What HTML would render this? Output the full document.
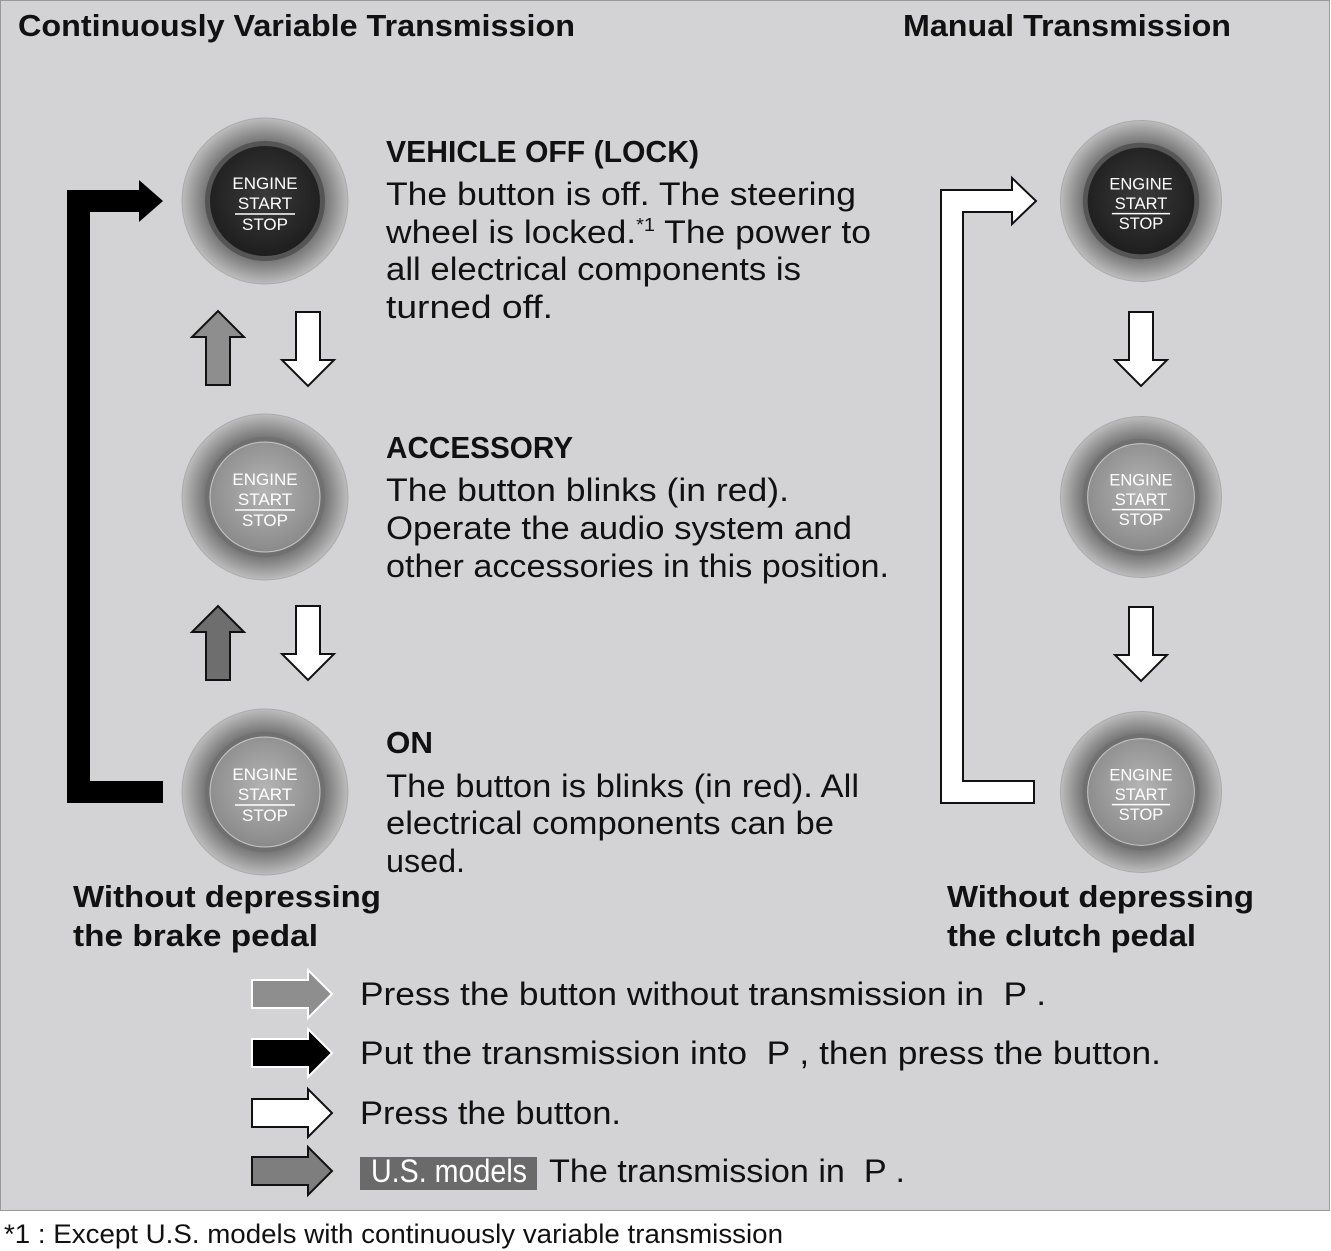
<!DOCTYPE html>
<html><head><meta charset="utf-8"><style>
html,body{margin:0;padding:0;background:#fff;}
svg{display:block;}
text{font-family:"Liberation Sans",sans-serif;fill:#111;white-space:pre;}
.b{font-weight:bold;font-size:31px;}
.t{font-size:32px;}
.bt{font-size:17px;fill:#fff;text-anchor:middle;}
</style></head><body>
<svg width="1331" height="1251" viewBox="0 0 1331 1251" xmlns="http://www.w3.org/2000/svg">
<defs>
<radialGradient id="ring" cx="50%" cy="50%" r="50%">
<stop offset="0.6" stop-color="#5a5a5a"/><stop offset="0.8" stop-color="#8a8a8a"/><stop offset="1" stop-color="#bdbdbd"/>
</radialGradient>
<radialGradient id="dark" cx="50%" cy="45%" r="55%">
<stop offset="0" stop-color="#3a3a3a"/><stop offset="1" stop-color="#1e1e1e"/>
</radialGradient>
<radialGradient id="light" cx="50%" cy="45%" r="55%">
<stop offset="0" stop-color="#b4b4b4"/><stop offset="1" stop-color="#8a8a8a"/>
</radialGradient>
<g id="btnD">
<circle r="83" fill="url(#ring)" stroke="#aaa" stroke-width="1"/>
<circle r="60" fill="#555"/>
<circle r="55" fill="url(#dark)"/>
<text class="bt" y="-12">ENGINE</text>
<text class="bt" y="8">START</text>
<line x1="-30" y1="13" x2="30" y2="13" stroke="#fff" stroke-width="1.5"/>
<text class="bt" y="29">STOP</text>
</g>
<g id="btnL">
<circle r="83" fill="url(#ring)" stroke="#aaa" stroke-width="1"/>
<circle r="60" fill="#707070"/>
<circle r="55" fill="url(#light)" stroke="#c8c8c8" stroke-width="1"/>
<text class="bt" y="-12">ENGINE</text>
<text class="bt" y="8">START</text>
<line x1="-30" y1="13" x2="30" y2="13" stroke="#fff" stroke-width="1.5"/>
<text class="bt" y="29">STOP</text>
</g>
<path id="down" d="M-12,0 H12 V48 H26 L0,74 L-26,48 H-12 Z" stroke="#111" stroke-width="2"/>
<path id="right" d="M0,-14 H56 V-24 L80,0 L56,24 V14 H0 Z" stroke-width="2"/>
</defs>
<rect x="0.5" y="0.5" width="1329" height="1210" fill="#d3d3d5" stroke="#999" stroke-width="1"/>

<text class="b" x="18" y="36" textLength="557" lengthAdjust="spacingAndGlyphs">Continuously Variable Transmission</text>
<text class="b" x="903" y="36" textLength="328" lengthAdjust="spacingAndGlyphs">Manual Transmission</text>

<path d="M163,781 H90 V212 H139 V222 L163,201 L139,180 V190 H67 V803 H163 Z" fill="#000"/>
<path d="M1034,781 H963 V212 H1012 V224 L1036,201 L1012,178 V190 H941 V803 H1034 Z" fill="#fff" stroke="#111" stroke-width="2"/>

<use href="#btnD" x="265" y="201"/>
<use href="#btnL" x="265" y="497"/>
<use href="#btnL" x="265" y="792"/>
<use href="#btnD" x="1141" y="201" transform="translate(1141,201) scale(0.97) translate(-1141,-201)"/>
<use href="#btnL" x="1141" y="497" transform="translate(1141,497) scale(0.97) translate(-1141,-497)"/>
<use href="#btnL" x="1141" y="792" transform="translate(1141,792) scale(0.97) translate(-1141,-792)"/>

<use href="#down" x="218" y="385" transform="rotate(180 218 385)" fill="#8e8e8e"/>
<use href="#down" x="308" y="312" fill="#fff"/>
<use href="#down" x="218" y="680" transform="rotate(180 218 680)" fill="#6e6e6e"/>
<use href="#down" x="308" y="606" fill="#fff"/>
<use href="#down" x="1141" y="312" fill="#fff"/>
<use href="#down" x="1141" y="607" fill="#fff"/>

<text class="b" x="386" y="162" textLength="313" lengthAdjust="spacingAndGlyphs">VEHICLE OFF (LOCK)</text>
<text class="t" x="386" y="205" textLength="470" lengthAdjust="spacingAndGlyphs">The button is off. The steering</text>
<text class="t" x="386" y="243" textLength="485" lengthAdjust="spacingAndGlyphs">wheel is locked.<tspan font-size="18" dy="-12">*1</tspan><tspan dy="12"> The power to</tspan></text>
<text class="t" x="386" y="280" textLength="415" lengthAdjust="spacingAndGlyphs">all electrical components is</text>
<text class="t" x="386" y="318" textLength="167" lengthAdjust="spacingAndGlyphs">turned off.</text>

<text class="b" x="386" y="458" textLength="187" lengthAdjust="spacingAndGlyphs">ACCESSORY</text>
<text class="t" x="386" y="501" textLength="403" lengthAdjust="spacingAndGlyphs">The button blinks (in red).</text>
<text class="t" x="386" y="539" textLength="466" lengthAdjust="spacingAndGlyphs">Operate the audio system and</text>
<text class="t" x="386" y="577" textLength="503" lengthAdjust="spacingAndGlyphs">other accessories in this position.</text>

<text class="b" x="386" y="753" textLength="47" lengthAdjust="spacingAndGlyphs">ON</text>
<text class="t" x="386" y="797" textLength="473" lengthAdjust="spacingAndGlyphs">The button is blinks (in red). All</text>
<text class="t" x="386" y="834" textLength="448" lengthAdjust="spacingAndGlyphs">electrical components can be</text>
<text class="t" x="386" y="872" textLength="79" lengthAdjust="spacingAndGlyphs">used.</text>

<text class="b" x="73" y="907" textLength="308" lengthAdjust="spacingAndGlyphs">Without depressing</text>
<text class="b" x="73" y="946" textLength="245" lengthAdjust="spacingAndGlyphs">the brake pedal</text>
<text class="b" x="947" y="907" textLength="307" lengthAdjust="spacingAndGlyphs">Without depressing</text>
<text class="b" x="947" y="946" textLength="249" lengthAdjust="spacingAndGlyphs">the clutch pedal</text>

<use href="#right" x="252" y="994" fill="#8e8e8e" stroke="#fff"/>
<use href="#right" x="252" y="1053" fill="#000" stroke="#fff"/>
<use href="#right" x="252" y="1113" fill="#fff" stroke="#111"/>
<use href="#right" x="252" y="1171" fill="#7e7e7e" stroke="#111"/>
<text class="t" x="360" y="1005" textLength="686" lengthAdjust="spacingAndGlyphs">Press the button without transmission in  P .</text>
<text class="t" x="360" y="1064" textLength="801" lengthAdjust="spacingAndGlyphs">Put the transmission into  P , then press the button.</text>
<text class="t" x="360" y="1124" textLength="261" lengthAdjust="spacingAndGlyphs">Press the button.</text>
<rect x="360" y="1157" width="177" height="33" fill="#6a6a6a"/>
<text class="t" x="371" y="1182" style="fill:#fff" font-size="28" textLength="156" lengthAdjust="spacingAndGlyphs">U.S. models</text>
<text class="t" x="549" y="1182" textLength="356" lengthAdjust="spacingAndGlyphs">The transmission in  P .</text>

<text x="4" y="1243" font-size="27" textLength="779" lengthAdjust="spacingAndGlyphs">*1 : Except U.S. models with continuously variable transmission</text>
</svg>
</body></html>
